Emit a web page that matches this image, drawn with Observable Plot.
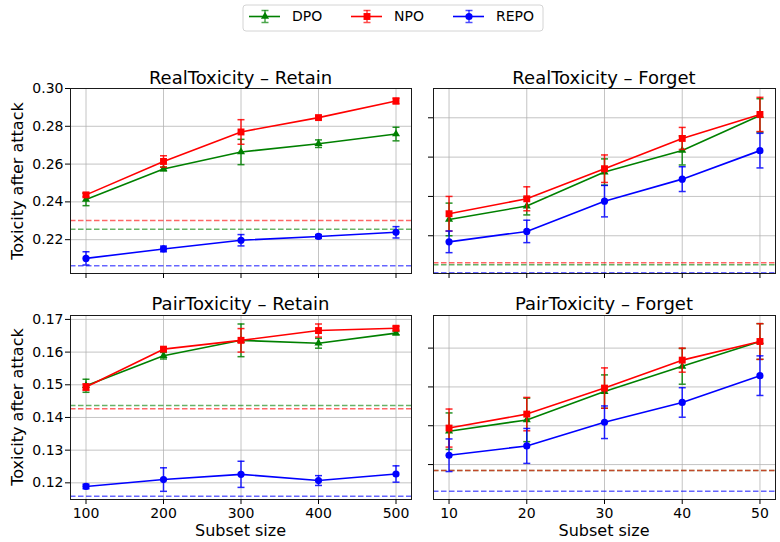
<!DOCTYPE html>
<html>
<head>
<meta charset="utf-8">
<script src="https://cdn.jsdelivr.net/npm/d3@7"></script>
<script src="https://cdn.jsdelivr.net/npm/@observablehq/plot@0.6"></script>
<style>
  html, body { margin: 0; padding: 0; background: #fff; }
  #chart { position: relative; width: 780px; height: 542px; overflow: hidden; background: #fff; font-family: "DejaVu Sans", sans-serif; color: #000; }
  .layer { position: absolute; left: 0; top: 0; }
  .lbl { position: absolute; white-space: nowrap; line-height: 1; color: #000; }
</style>
</head>
<body>
<div id="chart"></div>
<script>
// ---------- data ----------
const methods = ["DPO", "NPO", "REPO"];
const colors = ["green", "red", "blue"];
const symbols = ["triangle", "square", "circle"];

const retainSizes = [100, 200, 300, 400, 500];
const forgetSizes = [10, 20, 30, 40, 50];

// RealToxicity – Retain (rows: DPO, NPO, REPO)
const rtRetainMean = [
  [0.2413, 0.2574, 0.2664, 0.2708, 0.2759],
  [0.2437, 0.2614, 0.2770, 0.2846, 0.2934],
  [0.2101, 0.2151, 0.2197, 0.2217, 0.2239]
];
const rtRetainErr = [
  [0.0033, 0.0010, 0.0067, 0.0020, 0.0036],
  [0.0010, 0.0030, 0.0065, 0.0008, 0.0015],
  [0.0035, 0.0015, 0.0030, 0.0010, 0.0030]
];
const rtRetainBase = [0.2255, 0.2301, 0.2062];
const rtRetainTicks = [0.22, 0.24, 0.26, 0.28, 0.30];

// RealToxicity – Forget
const rtForgetMean = [
  [0.2283, 0.2351, 0.2524, 0.2634, 0.2812],
  [0.2312, 0.2388, 0.2541, 0.2695, 0.2817],
  [0.2169, 0.2222, 0.2376, 0.2488, 0.2633]
];
const rtForgetErr = [
  [0.0083, 0.0045, 0.0067, 0.0074, 0.0085],
  [0.0088, 0.0061, 0.0070, 0.0056, 0.0087],
  [0.0055, 0.0057, 0.0080, 0.0063, 0.0088]
];
const rtForgetBase = [0.2052, 0.2063, 0.2012];
const rtForgetTicks = [0.22, 0.24, 0.26, 0.28];

// PairToxicity – Retain
const ptRetainMean = [
  [0.1497, 0.1589, 0.1636, 0.1627, 0.1658],
  [0.1493, 0.1609, 0.1636, 0.1666, 0.1673],
  [0.1189, 0.1210, 0.1226, 0.1207, 0.1227]
];
const ptRetainErr = [
  [0.0020, 0.0010, 0.0050, 0.0015, 0.0005],
  [0.0010, 0.0005, 0.0036, 0.0020, 0.0006],
  [0.0007, 0.0036, 0.0040, 0.0015, 0.0025]
];
const ptRetainBase = [0.1437, 0.1427, 0.1159];
const ptRetainTicks = [0.12, 0.13, 0.14, 0.15, 0.16, 0.17];

// PairToxicity – Forget
const ptForgetMean = [
  [0.1386, 0.1415, 0.1488, 0.1553, 0.1617],
  [0.1394, 0.1430, 0.1497, 0.1569, 0.1617],
  [0.1324, 0.1348, 0.1409, 0.1460, 0.1529]
];
const ptForgetErr = [
  [0.0047, 0.0056, 0.0043, 0.0046, 0.0046],
  [0.0049, 0.0043, 0.0052, 0.0031, 0.0046],
  [0.0042, 0.0045, 0.0042, 0.0038, 0.0051]
];
const ptForgetBase = [0.1285, 0.1285, 0.1231];
const ptForgetTicks = [0.13, 0.14, 0.15, 0.16];

const titles = ["RealToxicity – Retain", "RealToxicity – Forget", "PairToxicity – Retain", "PairToxicity – Forget"];
const xLabel = "Subset size";
const yLabel = "Toxicity after attack";

// ---------- drawing ----------
const W = 780, H = 542;
const chart = document.getElementById("chart");
const markerR = [3.0, 3.9, 3.6];
const capSymbol = {
  draw(ctx, size) {
    const w = Math.sqrt(size / Math.PI);
    ctx.moveTo(-w, 0);
    ctx.lineTo(w, 0);
  }
};

function panel(o) {
  const rows = [];
  methods.forEach((m, i) => {
    o.sizes.forEach((s, j) => {
      const v = o.means[i][j], e = o.errs[i][j];
      rows.push({method: m, x: s, y: v, lo: v - e, hi: v + e});
    });
  });
  const baseRows = methods.map((m, i) => ({method: m, y: o.bases[i]}));
  const marks = [
    Plot.ruleY(o.yTicks, {stroke: "#b0b0b0", strokeOpacity: 0.75, strokeWidth: 1}),
    Plot.ruleX(o.sizes, {stroke: "#b0b0b0", strokeOpacity: 0.75, strokeWidth: 1}),
    Plot.ruleY(baseRows, {y: "y", stroke: "method", strokeDasharray: "5.5,2.5", strokeWidth: 1.5, strokeOpacity: 0.6})
  ];
  methods.forEach((m, i) => {
    const r = rows.filter(d => d.method === m);
    marks.push(
      Plot.line(r, {x: "x", y: "y", stroke: "method", strokeWidth: 1.6}),
      Plot.ruleX(r, {x: "x", y1: "lo", y2: "hi", stroke: "method", strokeWidth: 1.5, strokeOpacity: 0.85}),
      Plot.dot(r, {x: "x", y: "lo", symbol: capSymbol, r: 3.5, stroke: "method", fill: "none", strokeWidth: 1.5, strokeOpacity: 0.85}),
      Plot.dot(r, {x: "x", y: "hi", symbol: capSymbol, r: 3.5, stroke: "method", fill: "none", strokeWidth: 1.5, strokeOpacity: 0.85}),
      Plot.dot(r, {x: "x", y: "y", symbol: symbols[i], r: markerR[i], fill: "method", stroke: "none"})
    );
  });
  marks.push(
    Plot.frame({stroke: "#1a1a1a", strokeWidth: 1}),
    Plot.axisX(o.sizes, {anchor: "bottom", tickSize: 5, tickPadding: 4, fontSize: 14, label: null,
      tickFormat: o.showX ? (d => String(d)) : (() => "")}),
    Plot.axisY(o.yTicks, {anchor: "left", tickSize: 5, tickPadding: 2, fontSize: 14, label: null,
      tickFormat: o.showY ? d3.format(".2f") : (() => "")})
  );
  const p = Plot.plot({
    width: W, height: H,
    marginLeft: o.frame[0], marginRight: W - o.frame[1],
    marginTop: o.frame[2], marginBottom: H - o.frame[3],
    x: {domain: o.xDomain},
    y: {domain: o.yDomain},
    color: {domain: methods, range: colors},
    style: {background: "transparent", fontFamily: "DejaVu Sans", fontSize: "14px", color: "#000", overflow: "visible"},
    marks
  });
  const wrap = document.createElement("div");
  wrap.className = "layer";
  wrap.appendChild(p);
  chart.appendChild(wrap);
}

panel({sizes: retainSizes, xDomain: [80, 520], yDomain: [0.2021, 0.3000], yTicks: rtRetainTicks,
  means: rtRetainMean, errs: rtRetainErr, bases: rtRetainBase, frame: [70, 411, 88, 273], showX: false, showY: true});
panel({sizes: forgetSizes, xDomain: [8, 52], yDomain: [0.2008, 0.2949], yTicks: rtForgetTicks,
  means: rtForgetMean, errs: rtForgetErr, bases: rtForgetBase, frame: [433, 775, 88, 273], showX: false, showY: false});
panel({sizes: retainSizes, xDomain: [80, 520], yDomain: [0.1149, 0.1712], yTicks: ptRetainTicks,
  means: ptRetainMean, errs: ptRetainErr, bases: ptRetainBase, frame: [70, 411, 315, 499], showX: true, showY: true});
panel({sizes: forgetSizes, xDomain: [8, 52], yDomain: [0.1210, 0.1684], yTicks: ptForgetTicks,
  means: ptForgetMean, errs: ptForgetErr, bases: ptForgetBase, frame: [433, 775, 315, 499], showX: true, showY: false});

// ---------- legend ----------
const legend = Plot.plot({
  width: 301, height: 27, margin: 0,
  x: {type: "band", domain: methods, range: [6, 243], paddingInner: 0.699, paddingOuter: 0, axis: null},
  y: {domain: [-1, 1], range: [18, 6], axis: null},
  color: {domain: methods, range: colors},
  style: {background: "transparent", fontFamily: "DejaVu Sans", fontSize: "14px", color: "#000", overflow: "visible"},
  marks: [
    Plot.frame({stroke: "#d4d4d4", strokeWidth: 1, rx: 3, inset: 0.5, fill: "white"}),
    Plot.tickY(methods, {x: d => d, y: () => 0, stroke: d => d, strokeWidth: 1.6}),
    Plot.ruleX(methods, {x: d => d, y1: () => -1, y2: () => 1, stroke: d => d, strokeWidth: 1.5, strokeOpacity: 0.7}),
    Plot.dot(methods, {x: d => d, y: () => -1, symbol: capSymbol, r: 3.5, stroke: d => d, fill: "none", strokeWidth: 1.5, strokeOpacity: 0.7}),
    Plot.dot(methods, {x: d => d, y: () => 1, symbol: capSymbol, r: 3.5, stroke: d => d, fill: "none", strokeWidth: 1.5, strokeOpacity: 0.7}),
    ...methods.map((m, i) => Plot.dot([m], {x: d => d, y: () => 0, symbol: symbols[i], r: markerR[i], fill: d => d, stroke: "none"})),
    Plot.text(methods, {x: d => d, y: () => 0, text: d => d, textAnchor: "start", dx: 27, fontSize: 14, fill: "#000"})
  ]
});
const lw = document.createElement("div");
lw.className = "layer";
lw.style.left = "242px";
lw.style.top = "4px";
lw.appendChild(legend);
chart.appendChild(lw);

// ---------- text labels ----------
function label(text, cx, top, size, rotate) {
  const d = document.createElement("div");
  d.className = "lbl";
  d.textContent = text;
  d.style.fontSize = size + "px";
  d.style.left = cx + "px";
  d.style.top = top + "px";
  d.style.transform = rotate ? "translate(-50%,-50%) rotate(-90deg)" : "translateX(-50%)";
  chart.appendChild(d);
}
const centers = [(70 + 411) / 2, (433 + 775) / 2];
label(titles[0], centers[0], 68.8, 18);
label(titles[1], centers[1], 68.8, 18);
label(titles[2], centers[0], 294.6, 18);
label(titles[3], centers[1], 294.6, 18);
label(xLabel, centers[0], 523.2, 16);
label(xLabel, centers[1], 523.2, 16);
label(yLabel, 18, 180.5, 16, true);
label(yLabel, 18, 407, 16, true);
</script>
</body>
</html>
